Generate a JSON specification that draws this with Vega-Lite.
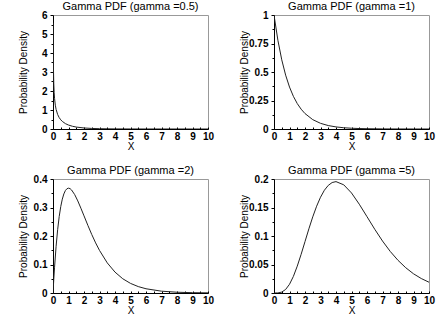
{
  "$schema": "https://vega.github.io/schema/vega-lite/v6.json",
  "padding": {"left": 17, "top": 0, "right": 0, "bottom": 0},
  "background": "white",
  "title": {"text": "Gamma Distribution", "orient": "bottom", "anchor": "start", "dx": 74, "fontSize": 29, "fontWeight": "normal", "offset": 21, "font": "Liberation Sans", "color": "#000"},
  "datasets": {
    "g05": [
      {"x": 0.01, "y": 5.586}, {"x": 0.02, "y": 3.91}, {"x": 0.03, "y": 3.161}, {"x": 0.05, "y": 2.4}, {"x": 0.075, "y": 1.911},
      {"x": 0.1, "y": 1.6143}, {"x": 0.15, "y": 1.2538}, {"x": 0.2, "y": 1.0329}, {"x": 0.3, "y": 0.7631}, {"x": 0.4, "y": 0.598},
      {"x": 0.5, "y": 0.4839}, {"x": 0.6, "y": 0.3997}, {"x": 0.8, "y": 0.2834}, {"x": 1.0, "y": 0.2076}, {"x": 1.25, "y": 0.1446},
      {"x": 1.5, "y": 0.1028}, {"x": 2.0, "y": 0.054}, {"x": 2.5, "y": 0.0293}, {"x": 3.0, "y": 0.0162}, {"x": 3.5, "y": 0.0091},
      {"x": 4.0, "y": 0.0052}, {"x": 5.0, "y": 0.0017}, {"x": 6.0, "y": 0.00057}, {"x": 7.0, "y": 0.00019}, {"x": 8.0, "y": 0.00007},
      {"x": 9.0, "y": 0.00002}, {"x": 10.0, "y": 0.00001}
    ],
    "g1": [
      {"x": 0, "y": 1}, {"x": 0.25, "y": 0.7788}, {"x": 0.5, "y": 0.6065}, {"x": 0.75, "y": 0.4724}, {"x": 1, "y": 0.3679},
      {"x": 1.25, "y": 0.2865}, {"x": 1.5, "y": 0.2231}, {"x": 1.75, "y": 0.1738}, {"x": 2, "y": 0.1353}, {"x": 2.5, "y": 0.0821},
      {"x": 3, "y": 0.0498}, {"x": 3.5, "y": 0.0302}, {"x": 4, "y": 0.0183}, {"x": 4.5, "y": 0.0111}, {"x": 5, "y": 0.0067},
      {"x": 5.5, "y": 0.0041}, {"x": 6, "y": 0.0025}, {"x": 7, "y": 0.0009}, {"x": 8, "y": 0.0003}, {"x": 9, "y": 0.0001}, {"x": 10, "y": 0.00005}
    ],
    "g2": [
      {"x": 0, "y": 0}, {"x": 0.05, "y": 0.0476}, {"x": 0.1, "y": 0.0905}, {"x": 0.2, "y": 0.1638}, {"x": 0.3, "y": 0.2223},
      {"x": 0.4, "y": 0.2681}, {"x": 0.5, "y": 0.3033}, {"x": 0.6, "y": 0.3293}, {"x": 0.7, "y": 0.3476}, {"x": 0.8, "y": 0.3595},
      {"x": 0.9, "y": 0.3659}, {"x": 1.0, "y": 0.3679}, {"x": 1.1, "y": 0.3662}, {"x": 1.2, "y": 0.3614}, {"x": 1.4, "y": 0.3452},
      {"x": 1.6, "y": 0.323}, {"x": 1.8, "y": 0.2975}, {"x": 2.0, "y": 0.2707}, {"x": 2.25, "y": 0.2372}, {"x": 2.5, "y": 0.2052},
      {"x": 2.75, "y": 0.1758}, {"x": 3.0, "y": 0.1494}, {"x": 3.5, "y": 0.1057}, {"x": 4.0, "y": 0.0733}, {"x": 4.5, "y": 0.05},
      {"x": 5.0, "y": 0.0337}, {"x": 5.5, "y": 0.0225}, {"x": 6.0, "y": 0.0149}, {"x": 7.0, "y": 0.0064}, {"x": 8.0, "y": 0.0027},
      {"x": 9.0, "y": 0.0011}, {"x": 10.0, "y": 0.0005}
    ],
    "g5": [
      {"x": 0, "y": 0}, {"x": 0.25, "y": 0.0001}, {"x": 0.5, "y": 0.0016}, {"x": 0.75, "y": 0.0062}, {"x": 1.0, "y": 0.0153},
      {"x": 1.25, "y": 0.0291}, {"x": 1.5, "y": 0.0471}, {"x": 1.75, "y": 0.0679}, {"x": 2.0, "y": 0.0902}, {"x": 2.25, "y": 0.1126},
      {"x": 2.5, "y": 0.1336}, {"x": 2.75, "y": 0.1523}, {"x": 3.0, "y": 0.168}, {"x": 3.25, "y": 0.1803}, {"x": 3.5, "y": 0.1888},
      {"x": 3.75, "y": 0.1938}, {"x": 4.0, "y": 0.1954}, {"x": 4.5, "y": 0.1898}, {"x": 5.0, "y": 0.1755}, {"x": 5.5, "y": 0.1558},
      {"x": 6.0, "y": 0.1339}, {"x": 6.5, "y": 0.1118}, {"x": 7.0, "y": 0.0912}, {"x": 7.5, "y": 0.0729}, {"x": 8.0, "y": 0.0573},
      {"x": 8.5, "y": 0.0443}, {"x": 9.0, "y": 0.0337}, {"x": 9.5, "y": 0.0254}, {"x": 10.0, "y": 0.0189}
    ]
  },
  "columns": 2,
  "spacing": {"row": 50, "column": 66},
  "bounds": "flush",
  "concat": [
    {
      "width": 155, "height": 114,
      "title": {"text": "Gamma PDF (gamma =0.5)", "frame": "group", "offset": -2},
      "data": {"name": "g05"},
      "mark": {"type": "line", "color": "#222", "strokeWidth": 1, "clip": true},
      "encoding": {
        "x": {"field": "x", "type": "quantitative", "scale": {"domain": [0, 10], "nice": false},
          "axis": {"title": "X", "values": [0,0.5,1,1.5,2,2.5,3,3.5,4,4.5,5,5.5,6,6.5,7,7.5,8,8.5,9,9.5,10],
            "labelExpr": "abs(datum.value - round(datum.value)) < 1e-6 ? format(datum.value, '~g') : ''"}},
        "y": {"field": "y", "type": "quantitative", "scale": {"domain": [0, 6], "nice": false},
          "axis": {"title": "Probability Density", "values": [0,0.5,1,1.5,2,2.5,3,3.5,4,4.5,5,5.5,6],
            "labelExpr": "abs(datum.value - round(datum.value)) < 1e-6 ? format(datum.value, '~g') : ''",
            "tickSize": {"condition": {"test": "abs(datum.value - round(datum.value)) < 1e-6", "value": 3}, "value": 2}}}
      }
    },
    {
      "width": 155, "height": 114,
      "title": {"text": "Gamma PDF (gamma =1)", "frame": "group", "offset": -2},
      "data": {"name": "g1"},
      "mark": {"type": "line", "color": "#222", "strokeWidth": 1, "clip": true},
      "encoding": {
        "x": {"field": "x", "type": "quantitative", "scale": {"domain": [0, 10], "nice": false},
          "axis": {"title": "X", "values": [0,0.5,1,1.5,2,2.5,3,3.5,4,4.5,5,5.5,6,6.5,7,7.5,8,8.5,9,9.5,10],
            "labelExpr": "abs(datum.value - round(datum.value)) < 1e-6 ? format(datum.value, '~g') : ''"}},
        "y": {"field": "y", "type": "quantitative", "scale": {"domain": [0, 1], "nice": false},
          "axis": {"title": "Probability Density", "values": [0,0.125,0.25,0.375,0.5,0.625,0.75,0.875,1],
            "labelExpr": "abs(datum.value*4 - round(datum.value*4)) < 1e-6 ? format(datum.value, '~g') : ''",
            "tickSize": {"condition": {"test": "abs(datum.value*4 - round(datum.value*4)) < 1e-6", "value": 3}, "value": 2}}}
      }
    },
    {
      "width": 155, "height": 114,
      "title": {"text": "Gamma PDF (gamma =2)", "frame": "group", "offset": -2},
      "data": {"name": "g2"},
      "mark": {"type": "line", "color": "#222", "strokeWidth": 1, "clip": true},
      "encoding": {
        "x": {"field": "x", "type": "quantitative", "scale": {"domain": [0, 10], "nice": false},
          "axis": {"title": "X", "values": [0,0.5,1,1.5,2,2.5,3,3.5,4,4.5,5,5.5,6,6.5,7,7.5,8,8.5,9,9.5,10],
            "labelExpr": "abs(datum.value - round(datum.value)) < 1e-6 ? format(datum.value, '~g') : ''"}},
        "y": {"field": "y", "type": "quantitative", "scale": {"domain": [0, 0.4], "nice": false},
          "axis": {"title": "Probability Density", "values": [0,0.05,0.1,0.15,0.2,0.25,0.3,0.35,0.4],
            "labelExpr": "abs(datum.value*10 - round(datum.value*10)) < 1e-6 ? format(datum.value, '~g') : ''",
            "tickSize": {"condition": {"test": "abs(datum.value*10 - round(datum.value*10)) < 1e-6", "value": 3}, "value": 2}}}
      }
    },
    {
      "width": 155, "height": 114,
      "title": {"text": "Gamma PDF (gamma =5)", "frame": "group", "offset": -2},
      "data": {"name": "g5"},
      "mark": {"type": "line", "color": "#222", "strokeWidth": 1, "clip": true},
      "encoding": {
        "x": {"field": "x", "type": "quantitative", "scale": {"domain": [0, 10], "nice": false},
          "axis": {"title": "X", "values": [0,0.5,1,1.5,2,2.5,3,3.5,4,4.5,5,5.5,6,6.5,7,7.5,8,8.5,9,9.5,10],
            "labelExpr": "abs(datum.value - round(datum.value)) < 1e-6 ? format(datum.value, '~g') : ''"}},
        "y": {"field": "y", "type": "quantitative", "scale": {"domain": [0, 0.2], "nice": false},
          "axis": {"title": "Probability Density", "values": [0,0.025,0.05,0.075,0.1,0.125,0.15,0.175,0.2],
            "labelExpr": "abs(datum.value*20 - round(datum.value*20)) < 1e-6 ? format(datum.value, '~g') : ''",
            "tickSize": {"condition": {"test": "abs(datum.value*20 - round(datum.value*20)) < 1e-6", "value": 3}, "value": 2}}}
      }
    }
  ],
  "config": {
    "font": "Liberation Sans",
    "view": {"stroke": "#999", "strokeWidth": 1},
    "axis": {
      "grid": false,
      "domainColor": "#000",
      "tickColor": "#000",
      "labelColor": "#000",
      "labelFont": "Liberation Sans",
      "labelFontSize": 10,
      "labelFontWeight": "bold",
      "labelOverlap": false,
      "labelFlush": false,
      "titleColor": "#000",
      "titleFont": "Liberation Sans",
      "titleFontSize": 10,
      "titleFontWeight": "normal"
    },
    "axisX": {"tickSize": -2, "labelPadding": 4, "titlePadding": 0},
    "axisY": {"labelPadding": 3, "titleX": -25, "titleY": 57},
    "title": {"fontSize": 11, "fontWeight": "normal", "font": "Liberation Sans", "color": "#000"}
  }
}
